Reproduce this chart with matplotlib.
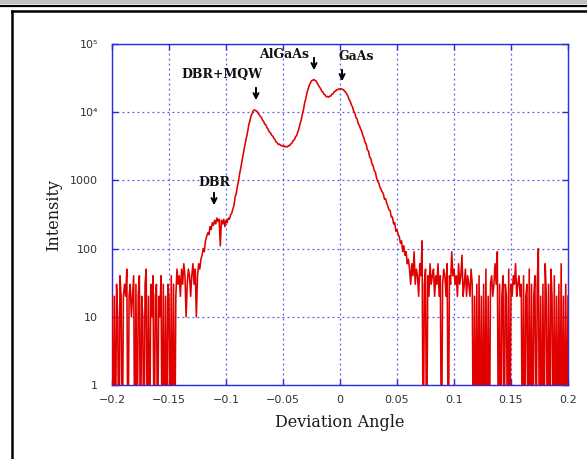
"""
Rocking-curve style plot: X-ray intensity vs deviation angle (log scale),
with the DBR / DBR+MQW / AlGaAs / GaAs features marked by arrows.
"""

import matplotlib
matplotlib.use("Agg")
import matplotlib.pyplot as plt
import numpy as np
from matplotlib.lines import Line2D
from matplotlib.patches import Rectangle

# scan grid: one reading every 0.001 from -0.2 to 0.2
ANGLE_START = -0.2
ANGLE_STEP = 0.001

# counts (0 = no counts, drawn down to the axis floor)
intensity = [
    # -0.200 .. -0.126  background
    20, 0, 20, 0, 30, 10, 0, 40, 20, 0, 20, 30, 20, 50, 0, 20, 30, 10, 20, 40,
    0, 30, 0, 20, 40, 0, 20, 10, 0, 30, 50, 0, 20, 0, 30, 10, 40, 0, 20, 30,
    0, 20, 10, 40, 0, 30, 0, 20, 0, 30, 20, 0, 40, 0, 30, 0, 20, 50, 30, 40,
    20, 50, 30, 60, 40, 10, 30, 50, 40, 20, 40, 60, 30, 50, 10,
    # -0.125 .. -0.095  DBR shoulder
    40, 60, 50, 70, 80, 100, 90, 130, 150, 170, 160, 210, 190, 240, 220, 260,
    230, 280, 250, 270, 110,
    # -0.094 .. -0.061  DBR+MQW peak
    260, 230, 270, 210, 260, 240, 280, 270, 310, 330, 380, 430, 570, 640, 820,
    980, 1270, 1520, 1930, 2350, 2950, 3550, 4350, 5200, 6600, 7500, 8900,
    9600, 10600, 10800, 10500, 10400, 9700, 9300, 8700, 8400, 7700, 7300, 6700,
    6500, 5900, 5600, 5100, 5000, 4600,
    # -0.059 .. -0.001  valley, AlGaAs peak
    4450, 4150, 3950, 3650, 3550, 3350, 3400, 3250, 3250, 3150, 3200, 3100,
    3150, 3100, 3250, 3250, 3450, 3550, 3850, 3950, 4350, 4550, 5150, 5750,
    6800, 7700, 9400, 10900, 13700, 15800, 19200, 21800, 24800, 26700, 28800,
    29300, 30200, 29300, 28700, 26800, 25200, 23300, 22200, 20300, 19700,
    18300, 17900, 16800, 17000, 16600, 17200, 17300, 18400, 18800, 20000,
    20300, 21200, 21400, 22000,
    # 0.000 .. 0.060  GaAs peak and tail
    21800, 22100, 21600, 21400, 20300, 19700, 18300, 17200, 15300, 14400,
    12800, 11900, 10300, 9700, 8400, 7900, 6800, 6400, 5700, 5300, 4600, 4200,
    3600, 3400, 2800, 2700, 2200, 2100, 1750, 1650, 1400, 1330, 1100, 970,
    920, 800, 740, 680, 640, 530, 540, 460, 420, 370, 360, 290, 290, 230, 240,
    180, 190, 160, 150, 120, 130, 90, 110, 80, 90, 60, 70,
    # 0.061 .. 0.200  background
    50, 30, 60, 40, 90, 30, 50, 40, 20, 60, 40, 130, 0, 30, 50, 0, 40, 20, 60,
    30, 40, 50, 20, 40, 30, 60, 20, 40, 0, 30, 50, 40, 20, 60, 0, 40, 30, 90,
    40, 50, 30, 40, 20, 60, 30, 40, 80, 20, 30, 50, 20, 40, 30, 20, 50, 30, 0,
    20, 0, 30, 0, 40, 0, 20, 0, 30, 0, 50, 0, 20, 0, 30, 40, 20, 30, 60, 30,
    90, 0, 30, 0, 20, 40, 0, 30, 20, 0, 50, 0, 30, 20, 40, 30, 60, 20, 30, 40,
    20, 30, 0, 40, 0, 20, 30, 0, 50, 0, 30, 0, 20, 40, 0, 30, 100, 0, 20, 0,
    30, 0, 60, 20, 0, 30, 0, 50, 20, 0, 40, 0, 20, 0, 30, 0, 60, 0, 20, 0, 30,
    0, 20,
]

peak_labels = ["DBR+MQW", "AlGaAs", "GaAs", "DBR"]
peak_angles = [-0.0737, -0.0228, 0.0018, -0.1105]

y_ticks = [1, 10, 100, 1000, 1e4, 1e5]
y_ticklabels = ["1", "10", "100", "1000", "10\u2074", "10\u2075"]
x_ticks = [-0.2, -0.15, -0.1, -0.05, 0, 0.05, 0.1, 0.15, 0.2]
x_ticklabels = ["\u22120.2", "\u22120.15", "\u22120.1", "\u22120.05", "0",
                "0.05", "0.1", "0.15", "0.2"]


def px_to_log(py: float) -> float:
    # vertical pixel of the reference -> intensity (only for label placement)
    return 10 ** ((385 - py) / 68.2)


def main() -> None:
    W, H = 587, 459
    fig = plt.figure(figsize=(W / 100, H / 100), dpi=100)

    # page furniture: grey strip, rule and frame of the source document
    fig.patches.append(Rectangle((0, 1 - 4 / H), 1, 4 / H, transform=fig.transFigure,
                                 facecolor="#c0c0c0", edgecolor="none"))
    fig.add_artist(Line2D([0, 1], [1 - 5.5 / H] * 2, transform=fig.transFigure,
                          color="black", lw=1.6))
    fig.add_artist(Line2D([11.5 / W, 1], [1 - 11 / H] * 2, transform=fig.transFigure,
                          color="black", lw=1.8))
    fig.add_artist(Line2D([11.5 / W] * 2, [0, 1 - 11 / H], transform=fig.transFigure,
                          color="black", lw=1.8))

    ax = fig.add_axes([112 / W, 1 - 385 / H, 456 / W, 341 / H])

    x = ANGLE_START + ANGLE_STEP * np.arange(len(intensity))
    y = np.array(intensity, dtype=float)
    y_plot = np.where(y > 0, y, 0.05)
    ax.plot(x, y_plot, color="#e00000", lw=1.15, zorder=3)

    ax.set_yscale("log")
    ax.set_xlim(-0.2, 0.2)
    ax.set_ylim(1, 1e5)
    ax.set_xticks(x_ticks)
    ax.set_xticklabels(x_ticklabels)
    ax.set_yticks(y_ticks)
    ax.set_yticklabels(y_ticklabels)
    ax.yaxis.set_minor_locator(matplotlib.ticker.NullLocator())

    blue = "#2a2ae0"
    for s in ax.spines.values():
        s.set_color(blue)
        s.set_linewidth(1.0)
    ax.tick_params(axis="both", which="major", direction="in", length=4, width=1,
                   color=blue, top=True, right=True, labelsize=8,
                   labelcolor="#333333")
    ax.tick_params(axis="x", pad=7)
    ax.tick_params(axis="y", pad=10)
    ax.grid(True, which="major", color="#3c3ce6", linestyle=(0, (1.5, 2.5)),
            linewidth=0.9, alpha=0.85)
    ax.set_axisbelow(True)

    serif = ["DejaVu Serif"]
    ax.set_xlabel("Deviation Angle", family=serif, fontsize=11.5, color="#1a1a1a",
                  labelpad=7)
    ax.set_ylabel("Intensity", family=serif, fontsize=11.5, color="#1a1a1a",
                  labelpad=6)

    # arrows (tail pixel, head pixel) and label positions, in reference pixels
    arrow_px = [(85, 103), (55, 73), (67, 84), (190, 208)]
    text_px = [(222, 74), (284, 54), (356, 57), (214, 182)]
    for label, ang, (ty, hy), (tx, txy) in zip(peak_labels, peak_angles, arrow_px, text_px):
        ax.annotate("", xy=(ang, px_to_log(hy)), xytext=(ang, px_to_log(ty)),
                    arrowprops=dict(arrowstyle="->", color="black", lw=1.4,
                                    mutation_scale=9))
        ax.text((tx - 340) / 1140, px_to_log(txy), label, family=serif,
                fontweight="bold", fontsize=9, ha="center", va="center",
                color="#111111")

    fig.savefig("out.png", dpi=100)
    plt.close(fig)


if __name__ == "__main__":
    main()
